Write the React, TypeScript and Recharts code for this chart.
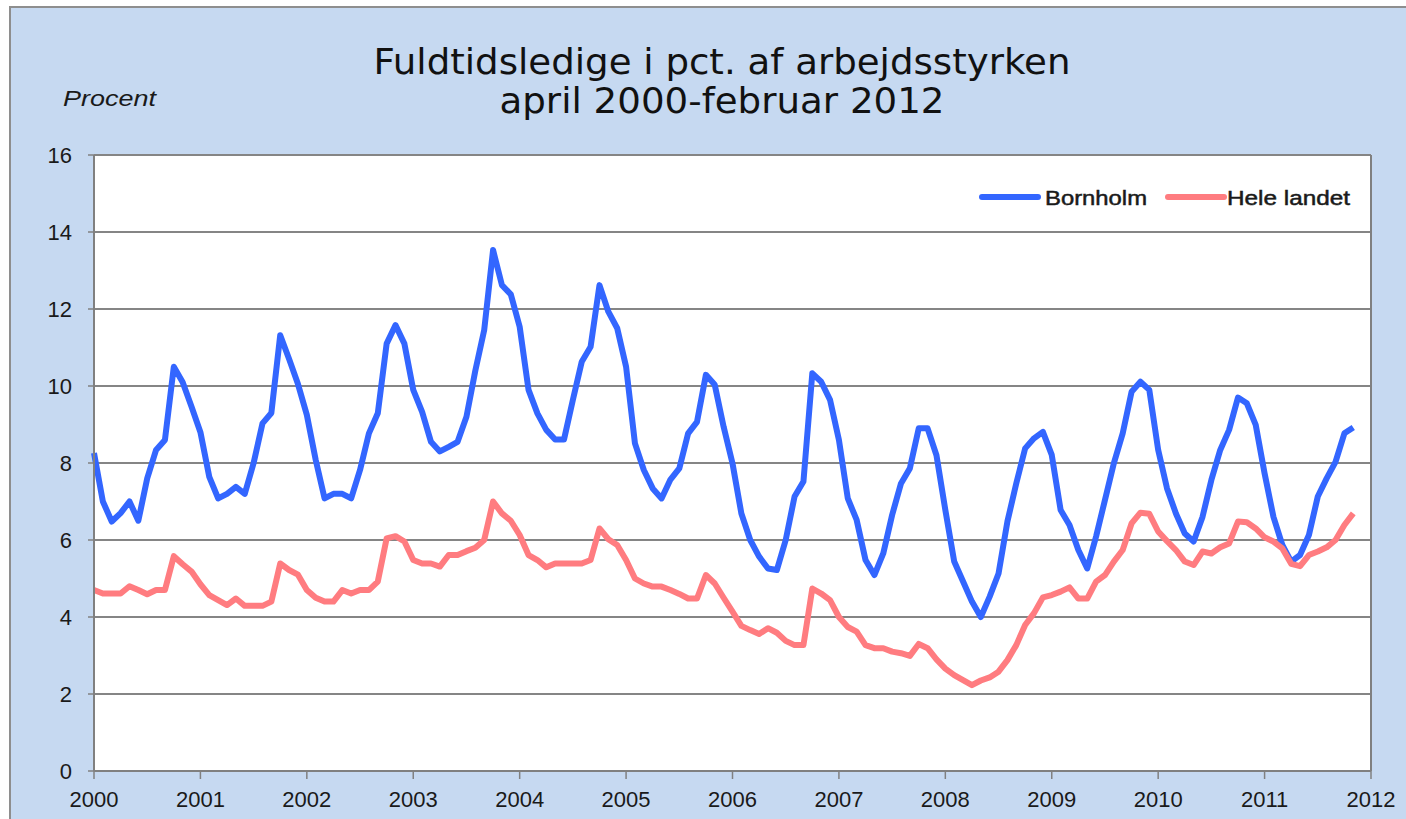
import { LineChart, Line, XAxis, YAxis, CartesianGrid, Legend } from "recharts";

// Fuldtidsledige i pct. af arbejdsstyrken, monthly, april 2000 - februar 2012
const startYear = 2000;
const yearTicks = [2000, 2001, 2002, 2003, 2004, 2005, 2006, 2007, 2008, 2009, 2010, 2011, 2012];
const pctTicks = [0, 2, 4, 6, 8, 10, 12, 14, 16];
const seriesNames = ["Bornholm", "Hele landet"];

const bornholm = [
  8.26, 7.0, 6.48, 6.7, 7.0, 6.5, 7.6, 8.34, 8.6, 10.5, 10.1, 9.46,
  8.8, 7.64, 7.08, 7.2, 7.38, 7.2, 8.0, 9.03, 9.3, 11.32, 10.7, 10.05,
  9.25, 8.08, 7.08, 7.2, 7.2, 7.08, 7.82, 8.77, 9.29, 11.1, 11.58, 11.1,
  9.9, 9.33, 8.55, 8.3, 8.42, 8.55, 9.2, 10.4, 11.45, 13.53, 12.62, 12.38,
  11.54, 9.9, 9.29, 8.86, 8.61, 8.61, 9.64, 10.63, 11.02, 12.62, 11.93, 11.5,
  10.5, 8.51, 7.82, 7.34, 7.08, 7.57, 7.86, 8.77, 9.07, 10.29, 10.03, 8.94,
  7.99, 6.69, 6.0, 5.57, 5.26, 5.22, 6.0, 7.13, 7.52, 10.33, 10.11, 9.64,
  8.6, 7.08, 6.52, 5.48, 5.09, 5.65, 6.65, 7.47, 7.86, 8.9, 8.9, 8.2,
  6.78, 5.44, 4.92, 4.4, 4.0, 4.53, 5.13, 6.48, 7.47, 8.38, 8.64, 8.81,
  8.21, 6.78, 6.39, 5.74, 5.26, 6.09, 7.04, 7.99, 8.77, 9.85, 10.11, 9.9,
  8.34, 7.34, 6.69, 6.17, 5.96, 6.6, 7.56, 8.34, 8.86, 9.7, 9.55, 8.99,
  7.73, 6.6, 5.87, 5.44, 5.61, 6.13, 7.13, 7.6, 8.03, 8.77, 8.92,
];

const heleLandet = [
  4.7, 4.61, 4.61, 4.61, 4.8, 4.7, 4.59, 4.7, 4.7, 5.58, 5.37, 5.18,
  4.85, 4.57, 4.44, 4.31, 4.48, 4.29, 4.29, 4.29, 4.4, 5.39, 5.22, 5.1,
  4.7, 4.5, 4.4, 4.4, 4.7, 4.61, 4.7, 4.7, 4.92, 6.04, 6.1, 5.96,
  5.48, 5.39, 5.39, 5.31, 5.61, 5.61, 5.71, 5.8, 6.0, 7.0, 6.69, 6.5,
  6.13, 5.61, 5.48, 5.29, 5.39, 5.39, 5.39, 5.39, 5.48, 6.3, 6.02, 5.87,
  5.48, 5.0, 4.87, 4.79, 4.79, 4.7, 4.6, 4.48, 4.48, 5.09, 4.87, 4.5,
  4.14, 3.77, 3.66, 3.56, 3.71, 3.59, 3.38, 3.27, 3.27, 4.74, 4.61, 4.44,
  4.0, 3.74, 3.62, 3.27, 3.19, 3.19, 3.1, 3.06, 2.99, 3.3, 3.19, 2.9,
  2.66, 2.49, 2.36, 2.23, 2.35, 2.43, 2.58, 2.88, 3.27, 3.79, 4.1, 4.51,
  4.57, 4.66, 4.77, 4.48, 4.48, 4.92, 5.09, 5.44, 5.74, 6.43, 6.71, 6.68,
  6.22, 5.97, 5.74, 5.44, 5.35, 5.7, 5.65, 5.81, 5.91, 6.48, 6.46, 6.3,
  6.07, 5.96, 5.78, 5.38, 5.32, 5.61, 5.7, 5.81, 6.0, 6.39, 6.69,
];

const data = bornholm.map((v, i) => ({
  t: startYear + i / 12,
  bornholm: v,
  hele: heleLandet[i],
}));

const BLUE = "#3366ff";
const PINK = "#ff7c80";
const GRID = "#858585";
const AXIS = "#808080";
const FRAME_BG = "#c6d9f1";
const FONT = "'Liberation Sans', Arial, sans-serif";

const tickStyle = { fontSize: 22, fill: "#1a1a1a", fontFamily: FONT };

function ChartLegend() {
  return (
    <svg width={400} height={34} style={{ display: "block" }}>
      <line x1={7} y1={17} x2={63} y2={17} stroke={BLUE} strokeWidth={6} strokeLinecap="round" />
      <text x={70} y={25} fontSize={21} fontFamily={FONT} fill="#1a1a1a" stroke="#1a1a1a" strokeWidth={0.5} textLength={102} lengthAdjust="spacingAndGlyphs">
        {seriesNames[0]}
      </text>
      <line x1={193} y1={17} x2={249} y2={17} stroke={PINK} strokeWidth={6} strokeLinecap="round" />
      <text x={252} y={25} fontSize={21} fontFamily={FONT} fill="#1a1a1a" stroke="#1a1a1a" strokeWidth={0.5} textLength={123} lengthAdjust="spacingAndGlyphs">
        {seriesNames[1]}
      </text>
    </svg>
  );
}

export default function App() {
  return (
    <div style={{ position: "absolute", left: 0, top: 0, width: 1406, height: 819, background: FRAME_BG, overflow: "hidden" }}>
      {/* white margin above and left of the frame, plus the frame's two visible edges */}
      <div style={{ position: "absolute", left: 0, top: 0, width: 1406, height: 6, background: "#fff" }} />
      <div style={{ position: "absolute", left: 0, top: 0, width: 9, height: 819, background: "#fff" }} />
      <div style={{ position: "absolute", left: 9, top: 6, width: 1397, height: 2, background: "#8e8e8e" }} />
      <div style={{ position: "absolute", left: 9, top: 6, width: 2, height: 813, background: "#8e8e8e" }} />
      <svg width={1406} height={130} style={{ position: "absolute", left: 0, top: 0 }}>
        <text x={722} y={74} textAnchor="middle" fontSize={36} fontFamily="'DejaVu Sans', Verdana, sans-serif" fill="#111" textLength={697} lengthAdjust="spacingAndGlyphs">
          Fuldtidsledige i pct. af arbejdsstyrken
        </text>
        <text x={722} y={113} textAnchor="middle" fontSize={36} fontFamily="'DejaVu Sans', Verdana, sans-serif" fill="#111" textLength={445} lengthAdjust="spacingAndGlyphs">
          april 2000-februar 2012
        </text>
        <text x={63} y={106} fontSize={22} fontStyle="italic" fontFamily={FONT} fill="#1a1a1a" textLength={93} lengthAdjust="spacingAndGlyphs">
          Procent
        </text>
      </svg>
      <div style={{ position: "absolute", left: 0, top: 0 }}>
        <LineChart width={1406} height={819} data={data} margin={{ top: 155, right: 34, bottom: 47, left: 93 }}>
          <CartesianGrid vertical={false} stroke={GRID} strokeWidth={2} fill="#fff" />
          <XAxis
            dataKey="t"
            type="number"
            domain={[2000, 2012]}
            ticks={yearTicks}
            interval={0}
            height={1}
            tickSize={8}
            tickMargin={12}
            tick={tickStyle}
            axisLine={{ stroke: AXIS, strokeWidth: 2 }}
            tickLine={{ stroke: AXIS, strokeWidth: 1.5 }}
          />
          <YAxis
            domain={[0, 16]}
            ticks={pctTicks}
            interval={0}
            width={1}
            tickSize={6}
            tickMargin={16}
            tick={tickStyle}
            axisLine={{ stroke: AXIS, strokeWidth: 2 }}
            tickLine={{ stroke: AXIS, strokeWidth: 1.5 }}
          />
          <YAxis
            yAxisId="r"
            orientation="right"
            domain={[0, 16]}
            width={1}
            tick={false}
            tickLine={false}
            axisLine={{ stroke: AXIS, strokeWidth: 2 }}
          />
          <Legend
            layout="horizontal"
            verticalAlign="middle"
            align="center"
            wrapperStyle={{ left: 975, top: 180, width: 400, height: 34 }}
            content={() => <ChartLegend />}
          />
          <Line
            type="linear"
            dataKey="bornholm"
            name={seriesNames[0]}
            stroke={BLUE}
            strokeWidth={6}
            strokeLinejoin="round"
            dot={false}
            activeDot={false}
            isAnimationActive={false}
          />
          <Line
            type="linear"
            dataKey="hele"
            name={seriesNames[1]}
            stroke={PINK}
            strokeWidth={6}
            strokeLinejoin="round"
            dot={false}
            activeDot={false}
            isAnimationActive={false}
          />
        </LineChart>
      </div>
    </div>
  );
}
